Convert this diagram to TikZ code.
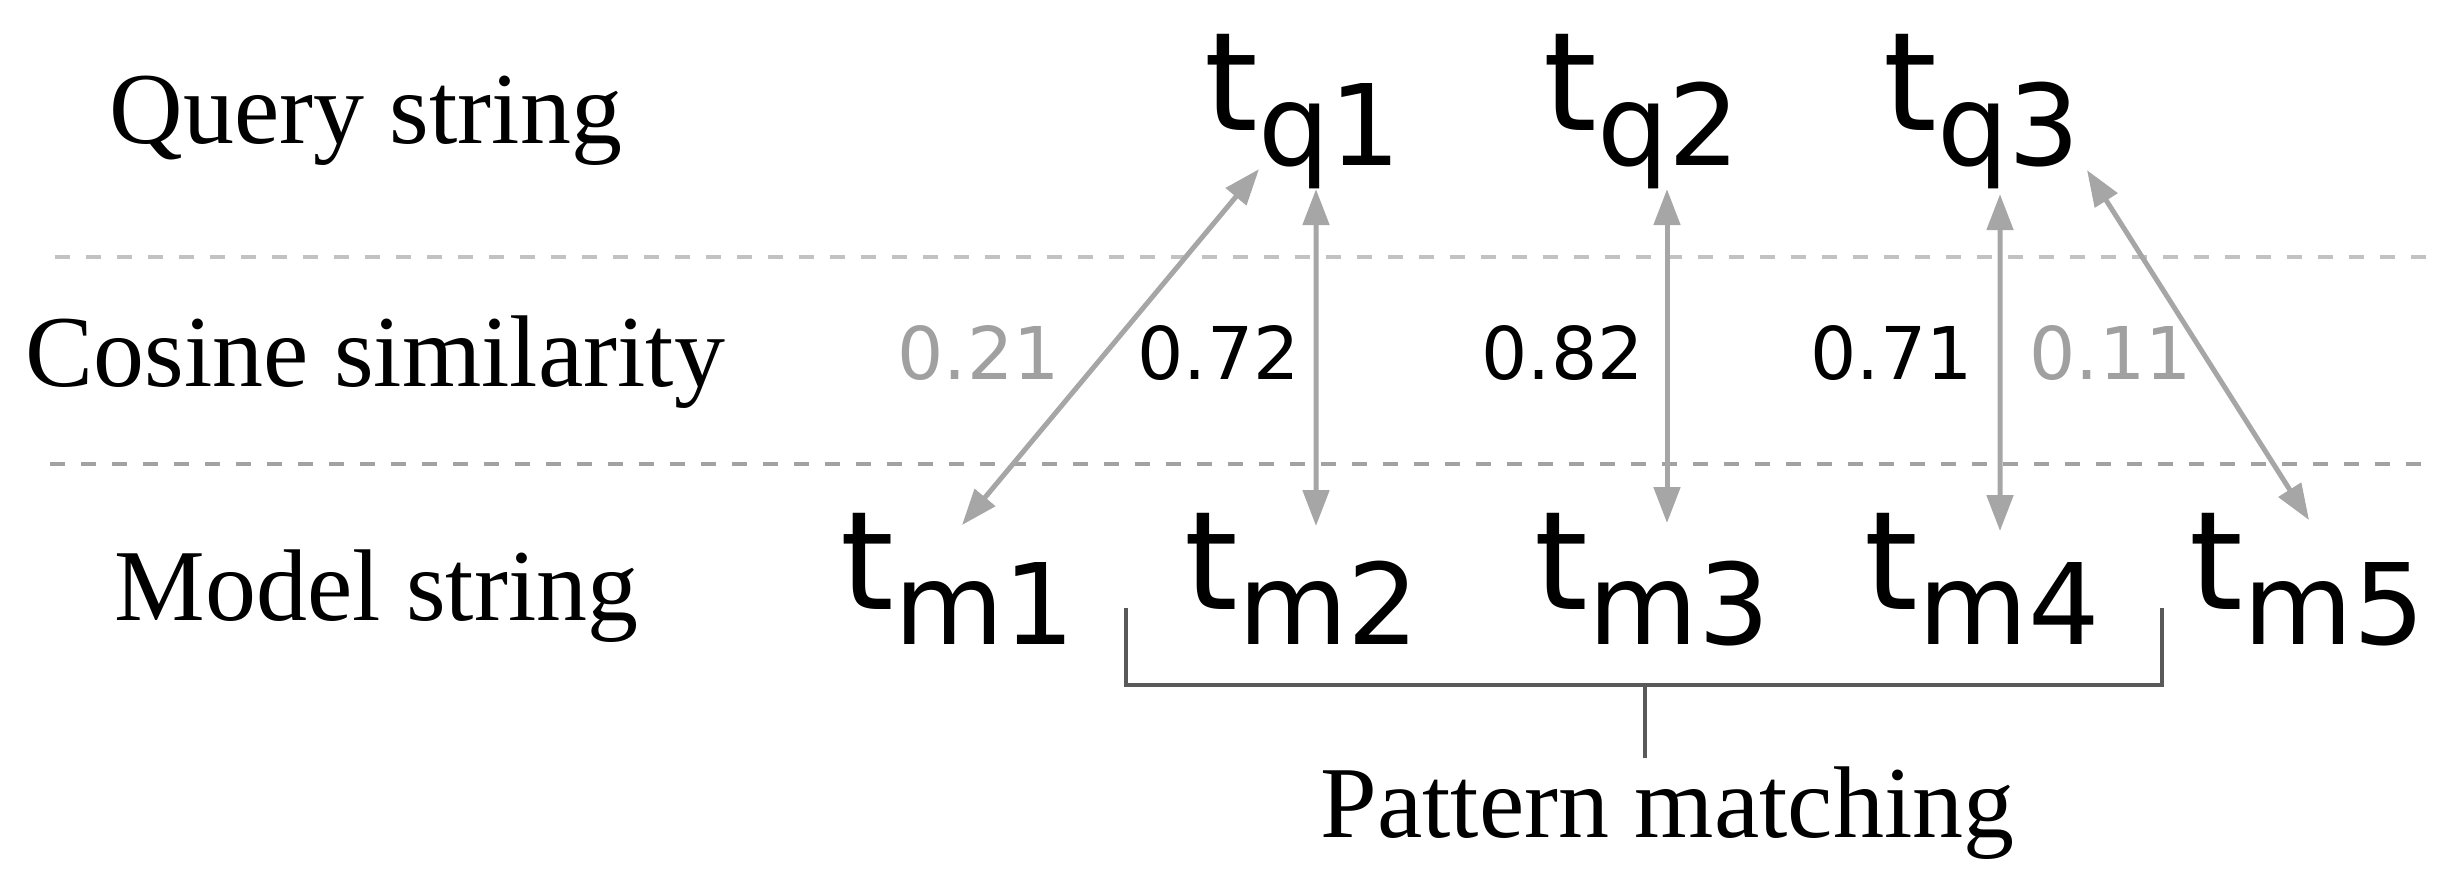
\documentclass[tikz,border=0pt]{standalone}
\usepackage{fontspec}
\setmainfont{Liberation Serif}
\newfontfamily\tokenFont{DejaVu Sans}
\usetikzlibrary{arrows.meta}
\definecolor{dashLight}{HTML}{C2C2C2}
\definecolor{dashDark}{HTML}{A2A2A2}
\definecolor{edgeGray}{HTML}{A6A6A6}
\definecolor{weakGray}{HTML}{A0A0A0}
\definecolor{bracketGray}{HTML}{595959}
\newcommand{\labelFontSize}{29pt}
\newcommand{\tokenFontSize}{39pt}
\newcommand{\subFontSize}{32pt}
\newcommand{\scoreFontSize}{20.7pt}
\newcommand{\subDrop}{0.35cm}
\newcommand{\tokenText}[1]{\fontsize{\tokenFontSize}{\tokenFontSize}\tokenFont t\raisebox{-\subDrop}{\fontsize{\subFontSize}{\subFontSize}\selectfont #1}}

\begin{document}
\begin{tikzpicture}
\tikzstyle{labelText}=[anchor=base west,inner sep=0pt,font=\fontsize{\labelFontSize}{\labelFontSize}\selectfont]
\tikzstyle{tokenNode}=[anchor=base west,inner sep=0pt]
\tikzstyle{scoreNode}=[anchor=base west,inner sep=0pt,font=\fontsize{\scoreFontSize}{\scoreFontSize}\tokenFont]
\tikzstyle{weakScore}=[scoreNode,text=weakGray]
\tikzstyle{simEdge}=[{Triangle[length=3.6mm,width=2.6mm]}-{Triangle[length=3.6mm,width=2.6mm]},draw=edgeGray,line width=0.05cm]
\tikzstyle{bracketLine}=[draw=bracketGray,line width=0.045cm]
\tikzstyle{rowRule}=[line width=0.045cm,dash pattern=on 0.15cm off 0.16cm]
\useasboundingbox (0,0) rectangle (24.53,-8.91);
\draw[rowRule,dashLight] (0.55,-2.57) -- (24.30,-2.57);
\draw[rowRule,dashDark] (0.50,-4.64) -- (24.25,-4.64);
\node[labelText] (query-label) at (1.09,-1.435) {Query string};
\node[labelText] (cosine-label) at (0.25,-3.86) {Cosine similarity};
\node[labelText] (model-label) at (1.14,-6.20) {Model string};
\node[tokenNode] (q-1) at (12.04,-1.30) {\tokenText{q1}};
\node[tokenNode] (q-2) at (15.43,-1.30) {\tokenText{q2}};
\node[tokenNode] (q-3) at (18.83,-1.30) {\tokenText{q3}};
\node[tokenNode] (m-1) at (8.40,-6.09) {\tokenText{m1}};
\node[tokenNode] (m-2) at (11.84,-6.09) {\tokenText{m2}};
\node[tokenNode] (m-3) at (15.34,-6.09) {\tokenText{m3}};
\node[tokenNode] (m-4) at (18.64,-6.09) {\tokenText{m4}};
\node[tokenNode] (m-5) at (21.89,-6.09) {\tokenText{m5}};
\node[weakScore] (s-1) at (8.97,-3.79) {0.21};
\node[scoreNode] (s-2) at (11.37,-3.79) {0.72};
\node[scoreNode] (s-3) at (14.81,-3.79) {0.82};
\node[scoreNode] (s-4) at (18.10,-3.79) {0.71};
\node[weakScore] (s-5) at (20.29,-3.79) {0.11};
\draw[simEdge] ([xshift=0.55cm,yshift=0.20cm]q-1.south west) -- ([xshift=1.22cm,yshift=-0.13cm]m-1.north west);
\draw[simEdge] ([xshift=1.12cm]q-1.south west) -- ([xshift=1.32cm,yshift=-0.14cm]m-2.north west);
\draw[simEdge] ([xshift=1.24cm]q-2.south west) -- ([xshift=1.33cm,yshift=-0.11cm]m-3.north west);
\draw[simEdge] ([xshift=1.17cm,yshift=-0.05cm]q-3.south west) -- ([xshift=1.36cm,yshift=-0.19cm]m-4.north west);
\draw[simEdge] ([xshift=2.04cm,yshift=0.19cm]q-3.south west) -- ([xshift=1.20cm,yshift=-0.08cm]m-5.north west);
\node[labelText] (pattern-label) at (13.20,-8.37) {Pattern matching};
\coordinate (bracket-mid) at (16.45,-6.85);
\draw[bracketLine] (11.26,-6.08) -- (11.26,-6.85) -- (21.62,-6.85) -- (21.62,-6.08);
\draw[bracketLine,shorten >=0.08cm] (bracket-mid) -- (bracket-mid |- pattern-label.north);
\end{tikzpicture}
\end{document}
